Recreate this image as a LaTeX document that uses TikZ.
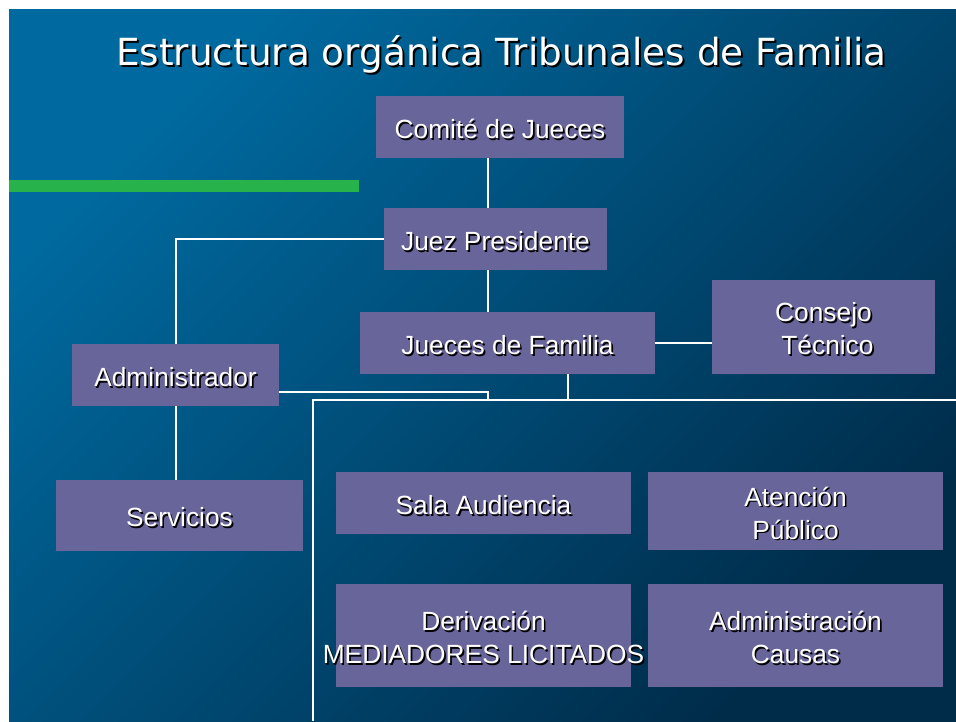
\documentclass[tikz,border=0pt]{standalone}
\usepackage{fontspec}
\setmainfont{Liberation Sans}
\newfontfamily\titlefont{DejaVu Sans}
\definecolor{bgA}{RGB}{0,106,160}
\definecolor{bgB}{RGB}{0,44,74}
\definecolor{boxc}{RGB}{104,101,154}
\definecolor{barg}{RGB}{40,178,76}
\tikzset{
  orgbox/.style={rectangle, fill=boxc, draw=none, inner sep=0pt},
  txt/.style={text=white, font=\fontsize{19.75pt}{24.75pt}\selectfont, align=center, inner sep=0pt},
  shd/.style={txt, text=black},
  ttl/.style={text=white, font=\titlefont\fontsize{28pt}{30pt}\selectfont, inner sep=0pt, anchor=base},
  ttlshd/.style={ttl, text=black},
  conn/.style={draw=white, line width=1.5pt}
}
\newcommand\obox[6]{%
  \node[orgbox, minimum width=#4*0.75pt, minimum height=#5*0.75pt] (#1) at (#2,#3) {};
  \node[shd] at ([xshift=1.2pt,yshift=-2.7pt]#1.center) {#6};
  \node[txt] (#1-t) at ([yshift=-1.5pt]#1.center) {#6};}
\begin{document}
\begin{tikzpicture}[x=0.75pt,y=-0.75pt]
\useasboundingbox (0,0) rectangle (956,721);
\fill[white] (0,0) rectangle (956,721);
\shade[top color=bgA, bottom color=bgB, shading angle=45] (9,9) rectangle (956,721);
\fill[barg] (9,180) rectangle (359,192);
% title
\node[ttlshd] at (503.5,67) {Estructura orgánica Tribunales de Familia};
\node[ttl] (title) at (501.5,65) {Estructura orgánica Tribunales de Familia};
% boxes
\obox{cj}{500}{127}{248}{62}{Comité de Jueces}
\obox{jp}{495.5}{239}{223}{62}{Juez Presidente}
\obox{jf}{507.5}{343}{295}{62}{Jueces de Familia}
\obox{ct}{823.5}{327}{223}{94}{Consejo\\\hspace*{0.3em}Técnico}
\obox{ad}{175.5}{375}{207}{62}{Administrador}
\obox{sv}{179.5}{515.5}{247}{71}{Servicios}
\obox{sa}{483.5}{503}{295}{62}{Sala Audiencia}
\obox{ap}{795.5}{511}{295}{78}{Atención\\Público}
\obox{dv}{483.5}{635.5}{295}{103}{Derivación\\MEDIADORES LICITADOS}
\obox{ac}{795.5}{635.5}{295}{103}{Administración\\Causas}
% connectors
\coordinate (v1) at (488,0);
\coordinate (v2) at (568,0);
\coordinate (h1) at (0,392);
\coordinate (fr) at (313,400);
\coordinate (frR) at (956,400);
\coordinate (frB) at (313,721);
\draw[conn] (cj.south -| v1) -- (jp.north -| v1);
\draw[conn] (jp.south -| v1) -- (jf.north -| v1);
\draw[conn] (jp.west) -- (jp.west -| ad.north) -- (ad.north);
\draw[conn] (ad.south) -- (ad.south |- sv.north);
\draw[conn] (jf.east) -- (ct.west |- jf.east);
\draw[conn] (ad.east |- h1) -- (v1 |- h1) -- (v1 |- fr);
\draw[conn] (jf.south -| v2) -- (v2 |- fr);
\draw[conn] (frR) -- (fr) -- (frB);
\end{tikzpicture}
\end{document}
